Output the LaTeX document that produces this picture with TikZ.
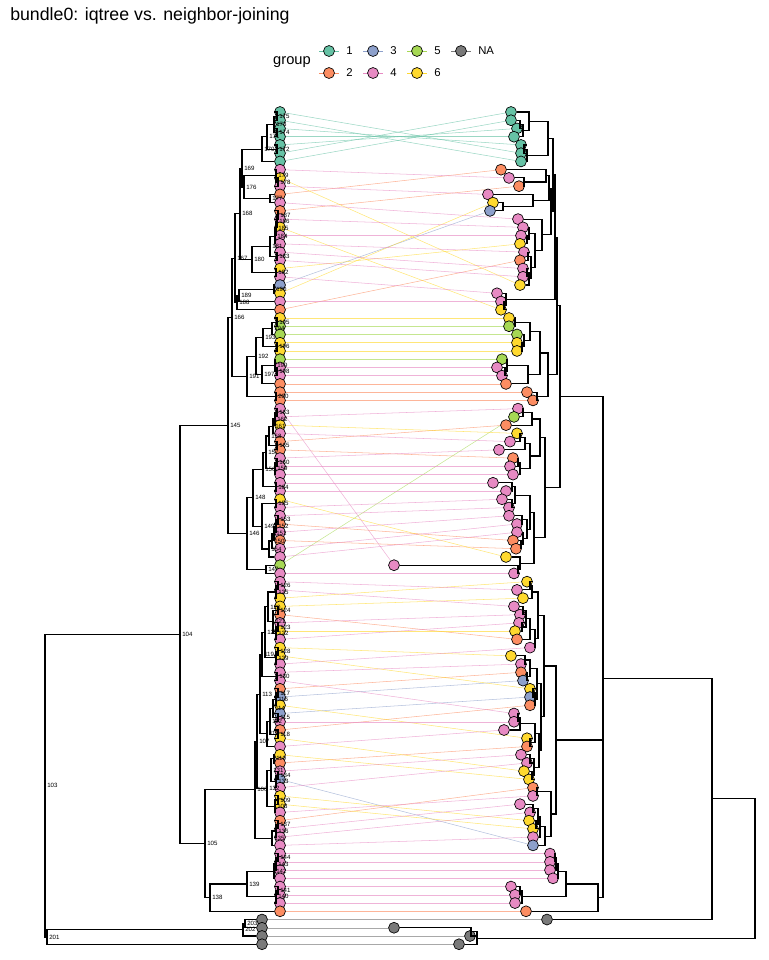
\documentclass[tikz,border=0pt]{standalone}
\usepackage{fontspec}
\setmainfont{Liberation Sans}
\usetikzlibrary{calc}
\definecolor{c1}{HTML}{66C2A5}
\definecolor{c2}{HTML}{FC8D62}
\definecolor{c3}{HTML}{8DA0CB}
\definecolor{c4}{HTML}{E78AC3}
\definecolor{c5}{HTML}{A6D854}
\definecolor{c6}{HTML}{FFD92F}
\definecolor{cN}{HTML}{7A7A7A}
\pgfdeclarelayer{bg}
\pgfsetlayers{bg,main}
\tikzset{
  leaf/.style={circle,draw=black,line width=0.5pt,minimum size=8.2pt,inner sep=0pt},
  tree/.style={line width=0.85pt,black},
  link/.style={line width=0.4pt,opacity=0.65},
  lbl/.style={font=\fontsize{4.6}{5}\selectfont,anchor=west,inner sep=0pt,xshift=1.5pt},
  keyline/.style={line width=0.5pt},
}
\newcommand\jn[4]{\path let \p1=(#2), \p2=(#3) in coordinate (#1) at ({#4*0.75pt},{(\y1+\y2)/2});
  \draw[tree] (#1) |- (#2) (#1) |- (#3);}
\newcommand\jl[5]{\jn{#1}{#2}{#3}{#4}\node[lbl] (lab#1) at (#1) {#5};}
\begin{document}
\begin{tikzpicture}[x=0.75pt,y=-0.75pt]
\useasboundingbox (0,0) rectangle (768,960);
% title
\node[anchor=base west,inner sep=0pt,font=\fontsize{13.3}{15}\selectfont] (title) at (10,21) {bundle0: iqtree vs. neighbor-joining};
% legend
\node[anchor=center,inner sep=0pt,font=\fontsize{11}{13}\selectfont] (gtitle) at (292,62) {group};
\foreach \x/\y/\c/\t [count=\k] in {329/51/c1/1,373/51/c3/3,417/51/c5/5,461/51/cN/NA,329/73/c2/2,373/73/c4/4,417/73/c6/6}{
  \coordinate (ka\k) at (\x-10,\y);
  \coordinate (kb\k) at (\x+10,\y);
  \draw[keyline,draw=\c] (ka\k) -- (kb\k);
  \node[leaf,fill=\c] (key\k) at (\x,\y) {};
  \node[anchor=west,inner sep=0pt,font=\fontsize{8.5}{10}\selectfont] (kt\k) at (\x+17,\y) {\t};
}
% left leaves
\foreach \c [count=\i from 0] in {c1,c1,c1,c1,c1,c1,c1,
 c4,c6,c4,c2,c4,c2,c4,c6,c4,c4,
 c4,c4,c6,c4,c3,c6,c4,c2,
 c6,c5,c5,c6,c6,c5,c4,c4,c2,c2,c2,
 c4,c4,c6,c4,c2,c2,c4,c4,c4,c4,c4,c6,c4,c4,c2,c4,c2,c4,c4,c5,c4,
 c4,c4,c6,c6,c2,c4,c6,c4,c6,c6,c4,c4,c4,c2,c3,c6,c3,c4,c2,c6,c4,
 c6,c2,c4,c3,c4,c6,c6,c4,c2,c4,c4,c4,c4,c4,c4,c4,c4,c4,c4,c2,
 cN,cN,cN,cN}{
  \node[leaf,fill=\c] (L\i) at ({ifthenelse(\i>97,262,280)},{112+8.24*\i}) {};
}
% right leaves
\foreach \x/\c [count=\i from 0] in {511/c1,511/c1,517/c1,514/c1,521/c1,521/c1,521/c1,
 501/c2,509/c4,519/c2,488/c4,493/c6,490/c3,518/c4,523/c4,521/c4,520/c6,524/c4,520/c2,523/c4,523/c4,520/c6,
 497/c4,501/c4,501/c6,509/c6,509/c5,517/c5,517/c6,517/c6,502/c5,497/c4,502/c4,506/c2,527/c2,533/c2,
 518/c4,514/c5,506/c2,517/c6,510/c4,499/c4,513/c2,510/c4,513/c4,493/c4,506/c4,502/c4,509/c4,509/c4,517/c4,517/c4,
 513/c2,516/c2,506/c6,394/c4,514/c4,
 527/c6,517/c4,523/c6,514/c4,520/c4,519/c4,515/c6,517/c2,530/c4,511/c6,521/c4,521/c2,523/c3,530/c6,530/c3,530/c2,
 514/c4,514/c4,504/c4,527/c6,527/c2,521/c4,527/c4,524/c6,529/c6,533/c2,533/c4,520/c4,530/c4,529/c6,533/c6,533/c4,533/c3,
 550/c4,550/c4,550/c4,553/c4,511/c4,515/c4,515/c4,526/c2,547/cN,394/cN,470/cN,459/cN}{
  \node[leaf,fill=\c] (R\i) at (\x,{112+8.24*\i}) {};
}
% links
\begin{pgfonlayer}{bg}
\foreach \a/\b/\c in {0/5/c1,1/6/c1,2/4/c1,3/3/c1,4/2/c1,5/0/c1,6/1/c1,
 26/26/c5,27/27/c5,30/30/c5,55/37/c5,
 21/12/c3,71/69/c3,73/71/c3,81/89/c3,
 98/98/cN,99/99/cN,100/100/cN,101/101/cN,
 10/7/c2,12/9/c2,24/18/c2,33/33/c2,34/34/c2,35/35/c2,40/38/c2,41/42/c2,50/52/c2,52/53/c2,61/64/c2,70/68/c2,75/72/c2,79/77/c2,86/82/c2,97/97/c2,
 8/21/c6,14/24/c6,19/16/c6,22/11/c6,25/25/c6,28/28/c6,29/29/c6,38/39/c6,47/54/c6,59/57/c6,60/59/c6,63/63/c6,65/66/c6,66/70/c6,72/76/c6,76/80/c6,78/81/c6,83/86/c6,84/87/c6,
 7/8/c4,9/10/c4,11/13/c4,13/14/c4,15/15/c4,16/17/c4,17/19/c4,18/20/c4,20/22/c4,23/23/c4,31/31/c4,32/32/c4,36/55/c4,37/36/c4,39/40/c4,42/41/c4,43/43/c4,44/44/c4,45/45/c4,46/46/c4,48/47/c4,49/48/c4,51/49/c4,53/50/c4,54/51/c4,56/56/c4,57/58/c4,58/60/c4,62/61/c4,64/62/c4,67/65/c4,68/67/c4,69/73/c4,74/74/c4,77/75/c4,80/78/c4,82/79/c4,85/83/c4,87/84/c4,88/85/c4,89/88/c4,90/90/c4,91/91/c4,92/92/c4,93/93/c4,94/94/c4,95/95/c4,96/96/c4}{
  \draw[link,draw=\c] (L\a) -- (R\b);
}
\end{pgfonlayer}
% ---------- left tree ----------
\jl{a175}{L0}{L1}{277}{175}
\jl{a174}{L2}{L3}{277}{174}
\jl{a173}{a175}{a174}{274}{173}
\jl{a172}{L4}{L5}{277}{172}
\jl{a171}{a173}{a172}{267}{171}
\jl{a170}{a171}{L6}{262}{170}
\jl{a178}{L8}{L9}{278}{178}
\jl{a179}{L7}{a178}{276}{179}
\jl{a177}{L10}{L11}{270}{177}
\jl{a176}{a179}{a177}{244}{176}
\jl{a169}{a170}{a176}{242}{169}
\jl{a187}{L12}{L13}{278}{187}
\jl{a186}{a187}{L14}{277}{186}
\jl{a185}{a186}{L15}{276}{185}
\jl{a184}{a185}{L16}{275}{184}
\jl{a183}{L17}{L18}{277}{183}
\jl{a181}{a184}{a183}{270}{181}
\jl{a182}{L19}{L20}{276}{182}
\jl{a180}{a181}{a182}{252}{180}
\jl{a168}{a169}{a180}{240}{168}
\jl{a190}{L21}{L22}{274}{190}
\jl{a189}{a190}{L23}{239}{189}
\jl{a188}{a189}{L24}{237}{188}
\jl{a167}{a168}{a188}{235}{167}
\jl{a195}{L25}{L26}{277}{195}
\jl{a194}{a195}{L27}{272}{194}
\jl{a196}{L28}{L29}{277}{196}
\jl{a193}{a194}{a196}{263}{193}
\jl{a198}{L31}{L32}{277}{198}
\jl{a199}{L30}{a198}{275}{199}
\jl{a197}{a199}{L33}{262}{197}
\jl{a192}{a193}{a197}{256}{192}
\jl{a200}{L34}{L35}{276}{200}
\jl{a191}{a192}{a200}{247}{191}
\jl{a166}{a167}{a191}{232}{166}
\jl{a163}{L36}{L37}{277}{163}
\jl{a162}{a163}{L38}{275}{162}
\jl{a161}{a162}{L39}{273}{161}
\jl{a165}{L40}{L41}{277}{165}
\jl{a158}{a161}{a165}{269}{158}
\jl{a160}{L42}{L43}{277}{160}
\jl{a159}{a160}{L44}{275}{159}
\jl{a157}{a158}{a159}{266}{157}
\jl{a164}{L45}{L46}{276}{164}
\jl{a156}{a157}{a164}{263}{156}
\jl{a155}{L47}{L48}{276}{155}
\jl{a153}{L49}{L50}{278}{153}
\jl{a152}{a153}{L51}{276}{152}
\jl{a151}{a152}{L52}{274}{151}
\jl{a150}{a151}{L53}{272}{150}
\jl{a154}{a150}{L54}{269}{154}
\jl{a149}{a155}{a154}{262}{149}
\jl{a148}{a156}{a149}{253}{148}
\jl{a147}{L55}{L56}{266}{147}
\jl{a146}{a148}{a147}{247}{146}
\jl{a145}{a166}{a146}{228}{145}
\jl{a126}{L57}{L58}{278}{126}
\jl{a125}{a126}{L59}{276}{125}
\jl{a124}{L60}{L61}{278}{124}
\jl{a123}{L62}{L63}{278}{123}
\jl{a122}{a123}{L64}{276}{122}
\jl{a121}{a124}{a122}{273}{121}
\jl{a120}{a125}{a121}{268}{120}
\jl{a128}{L65}{L66}{278}{128}
\jl{a129}{a128}{L67}{276}{129}
\jl{a127}{a120}{a129}{265}{127}
\jl{a130}{L68}{L69}{277}{130}
\jl{a119}{a127}{a130}{262}{119}
\jl{a117}{L70}{L71}{278}{117}
\jl{a116}{a117}{L72}{276}{116}
\jl{a115}{L73}{L74}{278}{115}
\jl{a114}{a116}{a115}{273}{114}
\jl{a118}{L75}{L76}{278}{118}
\jl{a112}{a114}{a118}{270}{112}
\jl{a111}{a112}{L77}{267}{111}
\jl{a113}{a119}{a111}{260}{113}
\jl{a110}{L78}{L79}{274}{110}
\jl{a134}{L80}{L81}{278}{134}
\jl{a133}{a134}{L82}{276}{133}
\jl{a131}{a110}{a133}{271}{131}
\jl{a109}{L83}{L84}{278}{109}
\jl{a108}{a109}{L85}{275}{108}
\jl{a132}{a131}{a108}{267}{132}
\jl{a107}{a113}{a132}{257}{107}
\jl{a137}{L86}{L87}{278}{137}
\jl{a136}{a137}{L88}{276}{136}
\jl{a135}{a136}{L89}{272}{135}
\jl{a106}{a107}{a135}{255}{106}
\jl{a144}{L90}{L91}{278}{144}
\jl{a143}{a144}{L92}{276}{143}
\jl{a142}{a143}{L93}{274}{142}
\jl{a141}{L94}{L95}{278}{141}
\jl{a140}{a141}{L96}{276}{140}
\jl{a139}{a142}{a140}{247}{139}
\jl{a138}{a139}{L97}{210}{138}
\jl{a105}{a106}{a138}{205}{105}
\jl{a104}{a145}{a105}{180}{104}
\jl{a203}{L98}{L99}{245}{203}
\jl{a202}{a203}{L100}{243}{202}
\jl{a201}{a202}{L101}{47}{201}
\jl{a103}{a104}{a201}{45}{103}
% ---------- right tree ----------
\jn{gC}{R1}{R2}{520}
\jn{gB}{gC}{R3}{523}
\jn{gA}{R0}{gB}{529}
\jn{gE}{R4}{R5}{524}
\jn{gD}{gE}{R6}{527}
\jn{gR}{gA}{gD}{548}
\jn{O1}{R8}{R9}{524}
\jn{O2}{R7}{O1}{546}
\jn{B1}{R11}{R12}{503}
\jn{B2}{R10}{B1}{533}
\jn{O3}{O2}{B2}{549}
\jn{P1}{R15}{R16}{527}
\jn{P2}{R14}{P1}{529}
\jn{P3}{R17}{R18}{528}
\jn{P4}{R19}{R20}{527}
\jn{P5}{P4}{R21}{529}
\jn{P6}{P3}{P5}{531}
\jn{P7}{P2}{P6}{535}
\jn{P8}{R13}{P7}{542}
\jn{T2}{O3}{P8}{551}
\jn{U1}{gR}{T2}{553}
\jn{Q1}{R23}{R24}{504}
\jn{Q2}{R22}{Q1}{506}
\jn{U2}{U1}{Q2}{555}
\jn{V1}{R25}{R26}{515}
\jn{V2}{R28}{R29}{522}
\jn{V3}{R27}{V2}{524}
\jn{V4}{V1}{V3}{530}
\jn{V5}{R31}{R32}{505}
\jn{V6}{R30}{V5}{507}
\jn{V7}{V6}{R33}{528}
\jn{V8}{V4}{V7}{540}
\jn{V9}{R34}{R35}{537}
\jn{V10}{V8}{V9}{548}
\jn{H1}{U2}{V10}{557}
\jn{M1}{R36}{R37}{523}
\jn{M2}{M1}{R38}{532}
\jn{M3}{R39}{R40}{520}
\jn{M4}{M3}{R41}{525}
\jn{M5}{R42}{R43}{518}
\jn{M6}{M5}{R44}{520}
\jn{M7}{M4}{M6}{530}
\jn{M8}{M2}{M7}{540}
\jn{M9}{R45}{R46}{512}
\jn{M10}{R47}{R48}{512}
\jn{M11}{M9}{M10}{515}
\jn{M12}{R49}{R50}{522}
\jn{M14}{R52}{R53}{521}
\jn{M13}{R51}{M14}{523}
\jn{M15}{M12}{M13}{527}
\jn{M16}{M11}{M15}{530}
\jn{M17}{R55}{R56}{518}
\jn{M18}{R54}{M17}{520}
\jn{M19}{M16}{M18}{534}
\jn{M20}{M8}{M19}{545}
\jn{H2}{H1}{M20}{560}
\jn{W1}{R57}{R58}{530}
\jn{W2}{W1}{R59}{532}
\jn{W3}{R60}{R61}{523}
\jn{W4}{R62}{R63}{522}
\jn{W5}{W3}{W4}{526}
\jn{W6}{W5}{R64}{530}
\jn{W8}{W6}{R65}{535}
\jn{Wtop}{W2}{W8}{538}
\jn{W9}{R66}{R67}{525}
\jn{W10}{R68}{R69}{527}
\jn{W11}{W9}{W10}{530}
\jn{W12}{R70}{R71}{533}
\jn{W13}{W12}{R72}{535}
\jn{W14}{W11}{W13}{537}
\jn{W15}{R73}{R74}{518}
\jn{W16}{W15}{R75}{520}
\jn{W17}{R76}{R77}{530}
\jn{W18}{W16}{W17}{535}
\jn{W21}{R78}{R79}{530}
\jn{W22}{R80}{R81}{532}
\jn{W23}{W21}{W22}{534}
\jn{Wlow}{W18}{W23}{539}
\jn{Wmid}{W14}{Wlow}{541}
\jn{W20}{Wtop}{Wmid}{544}
\jn{W24}{R82}{R83}{537}
\jn{W25}{R84}{R85}{533}
\jn{W26}{R86}{R87}{536}
\jn{W27}{W25}{W26}{538}
\jn{W28}{W27}{R88}{540}
\jn{W29}{W28}{R89}{545}
\jn{W30}{W24}{W29}{551}
\jn{W}{W20}{W30}{556}
\jn{Y1}{R90}{R91}{555}
\jn{Y2}{Y1}{R92}{556}
\jn{Y3}{Y2}{R93}{558}
\jn{Y4}{R94}{R95}{520}
\jn{Y5}{Y4}{R96}{522}
\jn{Y}{Y3}{Y5}{566}
\jn{Z}{Y}{R97}{598}
% trifurcating node
\path let \p1=(H2), \p2=(W), \p3=(Z) in coordinate (N603) at ({603*0.75pt},{(\y1+\y2+\y3)/3});
\draw[tree] (N603) |- (H2) (N603) |- (W) (N603) |- (Z);
\jn{N712}{N603}{R98}{712}
\jn{g2}{R99}{R100}{471}
\jn{g1}{g2}{R101}{477}
\jn{rroot}{N712}{g1}{755}
\end{tikzpicture}
\end{document}
